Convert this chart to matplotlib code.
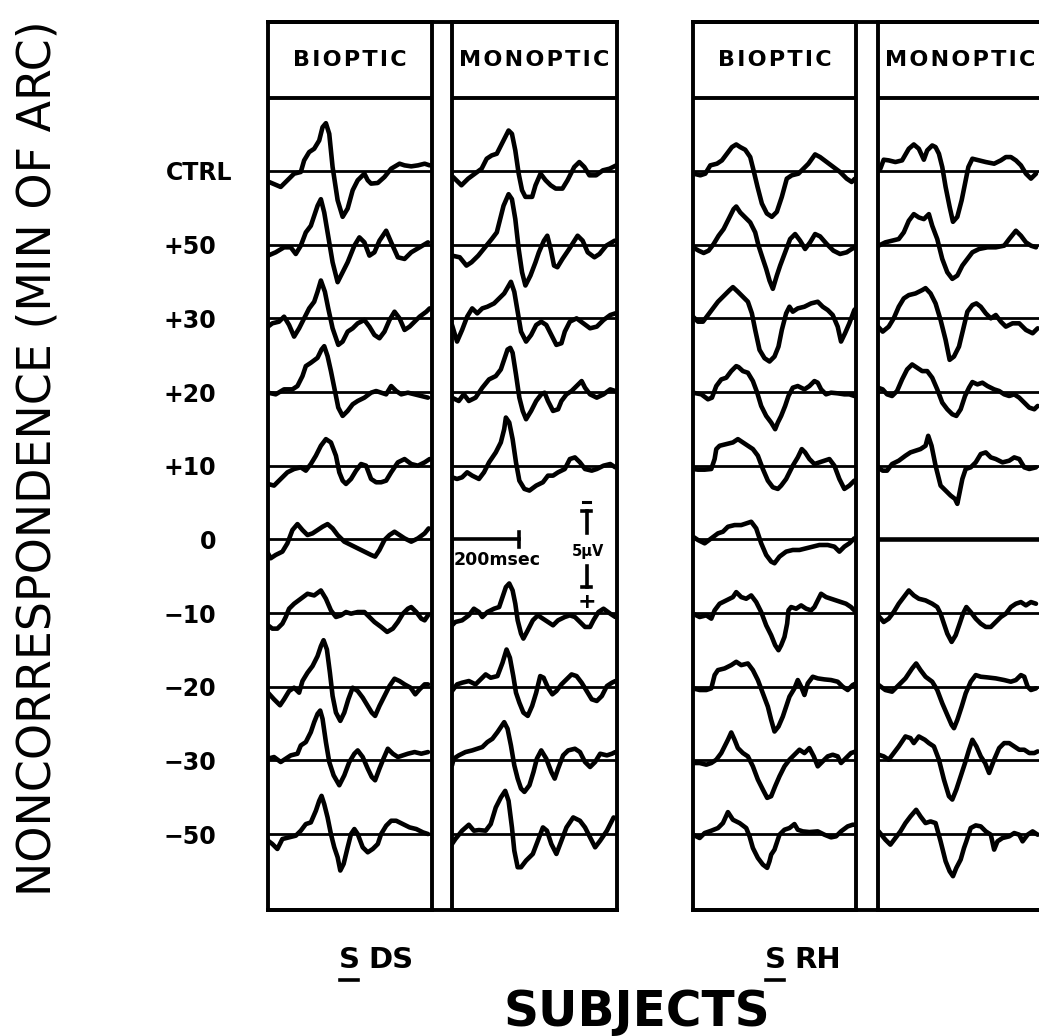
import matplotlib
matplotlib.use("Agg")
import matplotlib.pyplot as plt
import matplotlib.transforms as mtransforms
from matplotlib.lines import Line2D
import numpy as np

plt.rcParams['font.family'] = ['DejaVu Sans']

# ---------------- data (time in ms, amplitude in uV, negative up) ----------------
ROW_LABELS = ["CTRL", "+50", "+30", "+20", "+10", "0", "\u221210", "\u221220", "\u221230", "\u221250"]
PANEL_TITLES = ["BIOPTIC", "MONOPTIC"]
SUBJECT_NAMES = ["DS", "RH"]
TIME_BAR_MS = 200
CAL_UV = 5

# Subject DS, biooptic
DS_BIO_CTRL = [(3,0.66),(38,0.96),(58,0.56),(78,0.16),(98,0.06),(108,-0.64),(123,-1.14),(138,-1.34),(153,-1.84),(163,-2.64),(173,-2.88),(183,-2.24),(193,-0.24),(208,1.76),(223,2.76),(238,2.26),(253,1.16),(268,0.56),(288,0.16),(298,0.56),(308,0.76),(328,0.72),(348,0.36),(368,-0.14),(393,-0.44),(408,-0.34),(428,-0.28),(448,-0.34),(468,-0.44),(483,-0.34)]
DS_BIO_P50 = [(0,0.66),(23,0.46),(48,0.16),(68,0.16),(83,0.56),(98,0.06),(113,-0.74),(128,-1.14),(138,-1.74),(148,-2.34),(158,-2.74),(168,-1.94),(178,-0.74),(193,1.06),(208,2.26),(223,1.66),(238,1.06),(258,0.06),(273,-0.44),(288,-0.14),(303,0.66),(318,0.46),(333,-0.24),(353,-0.84),(368,-0.14),(388,0.76),(408,0.86),(428,0.46),(453,0.16),(478,-0.14)]
DS_BIO_P30 = [(0,0.5),(13,0.3),(33,0.2),(48,-0.1),(63,0.4),(78,1.1),(93,0.6),(108,0),(123,-0.6),(138,-1.0),(148,-1.6),(158,-2.28),(170,-1.6),(180,-0.6),(193,0.6),(210,1.6),(223,1.4),(238,0.8),(253,0.6),(268,0.3),(288,0.1),(303,0.5),(318,1.0),(333,1.2),(348,0.8),(363,0.1),(378,-0.4),(393,0),(408,0.7),(423,0.5),(438,0.2),(453,-0.1),(473,-0.4),(483,-0.6)]
DS_BIO_P20 = [(0,0.04),(23,0.14),(48,-0.16),(73,-0.16),(88,-0.36),(103,-0.96),(113,-1.56),(128,-1.76),(148,-2.06),(160,-2.56),(168,-2.76),(178,-2.16),(188,-1.26),(200,-0.06),(210,0.94),(223,1.44),(238,1.14),(253,0.74),(268,0.54),(288,0.34),(308,0.04),(323,-0.06),(338,0.04),(353,0.14),(368,-0.36),(383,-0.06),(398,0.14),(418,0.04),(438,0.14),(458,0.24),(478,0.34)]
DS_BIO_P10 = [(0,1.1),(18,1.2),(38,0.8),(58,0.4),(78,0.2),(98,0.1),(113,0.3),(128,-0.1),(143,-0.6),(158,-1.2),(173,-1.6),(188,-1.4),(203,-0.6),(213,0.4),(223,0.9),(233,1.1),(248,0.8),(263,0.3),(278,-0.1),(293,0),(308,0.8),(323,1.0),(338,1.0),(353,0.9),(368,0.4),(388,-0.2),(408,-0.4),(428,-0.1),(448,0),(468,-0.2),(483,-0.4)]
DS_BIO_Z = [(0,0.84),(8,1.14),(23,0.94),(43,0.74),(58,0.24),(73,-0.56),(88,-0.92),(103,-0.56),(118,-0.26),(133,-0.36),(148,-0.56),(163,-0.76),(178,-0.92),(193,-0.66),(208,-0.26),(228,0.14),(248,0.34),(268,0.54),(288,0.74),(308,0.94),(320,1.04),(333,0.64),(348,0.04),(363,-0.26),(378,-0.46),(393,-0.26),(408,-0.06),(428,0.14),(448,-0.06),(468,-0.36),(480,-0.66)]
DS_BIO_M10 = [(0,0.74),(13,0.94),(28,0.94),(43,0.64),(53,0.24),(63,-0.26),(78,-0.56),(98,-0.86),(118,-1.16),(138,-1.06),(158,-1.36),(173,-0.86),(188,-0.16),(203,0.24),(218,0.14),(233,-0.06),(248,0.04),(268,-0.06),(288,-0.06),(303,0.24),(318,0.54),(338,0.84),(356,1.14),(373,0.94),(388,0.54),(403,0.04),(418,-0.26),(428,-0.36),(443,-0.06),(458,0.34),(468,0.44),(478,0.14)]
DS_BIO_M20 = [(0,0.36),(18,0.76),(36,1.12),(48,0.76),(63,0.26),(78,0.06),(93,0.36),(103,-0.34),(118,-0.84),(133,-1.24),(148,-1.84),(158,-2.44),(166,-2.8),(176,-2.24),(185,-0.84),(193,0.56),(203,1.56),(216,2.06),(228,1.56),(240,0.76),(253,0.06),(268,0.26),(283,0.66),(298,1.16),(310,1.56),(320,1.76),(333,1.16),(348,0.56),(363,-0.04),(378,-0.48),(393,-0.34),(408,-0.14),(426,0.06),(440,0.46),(453,0.16),(468,-0.14),(478,-0.14)]
DS_BIO_M30 = [(0,-0.1),(18,-0.2),(38,0.1),(53,-0.1),(68,-0.3),(88,-0.4),(98,-0.9),(113,-1.1),(128,-1.7),(138,-2.3),(148,-2.8),(156,-3.0),(163,-2.5),(173,-1.1),(183,0.1),(196,0.9),(213,1.5),(228,0.9),(243,0.1),(258,-0.4),(268,-0.6),(283,-0.2),(298,0.5),(310,1.0),(320,1.2),(333,0.5),(345,-0.1),(358,-0.7),(373,-0.4),(388,-0.2),(403,-0.3),(418,-0.4),(438,-0.5),(458,-0.4),(478,-0.5)]
DS_BIO_M50 = [(0,0.4),(13,0.6),(28,0.9),(43,0.3),(63,0.2),(83,0.1),(98,-0.2),(113,-0.6),(128,-0.7),(143,-1.4),(153,-2.0),(160,-2.3),(168,-1.8),(178,-1.0),(188,0),(198,0.8),(208,1.4),(216,2.2),(226,1.8),(238,0.8),(248,0),(258,-0.3),(268,0),(283,0.8),(298,1.1),(313,0.9),(328,0.6),(338,0),(353,-0.5),(368,-0.8),(383,-0.8),(403,-0.6),(423,-0.4),(443,-0.3),(463,-0.1),(478,0)]

# Subject DS, monoptic (no trace recorded at 0)
DS_MONO_CTRL = [(3,0.36),(28,0.86),(48,0.46),(68,0.16),(88,-0.14),(103,-0.74),(118,-0.94),(133,-1.04),(143,-1.44),(153,-1.84),(168,-2.44),(178,-2.24),(188,-1.24),(198,0.16),(208,1.16),(218,1.56),(238,1.56),(248,0.86),(263,0.16),(278,0.56),(293,0.86),(308,1.06),(328,1.06),(343,0.56),(363,-0.24),(378,-0.54),(393,-0.24),(408,0.26),(428,0.26),(448,-0.04),(468,-0.14),(488,-0.34)]
DS_MONO_P50 = [(0,0.66),(23,0.76),(43,1.26),(58,1.06),(78,0.66),(98,0.16),(118,-0.34),(133,-0.74),(143,-1.54),(153,-2.34),(168,-3.04),(178,-2.74),(188,-1.54),(198,0.26),(208,1.66),(218,2.46),(233,1.86),(248,1.06),(258,0.46),(273,-0.24),(283,-0.54),(293,0.26),(303,1.26),(313,1.36),(328,0.86),(348,0.26),(373,-0.54),(388,-0.24),(403,0.46),(423,0.76),(438,0.56),(458,0.06),(483,-0.24)]
DS_MONO_P30 = [(0,0.4),(15,1.4),(30,0.7),(45,-0.1),(60,-0.6),(75,-0.3),(90,-0.6),(105,-0.7),(125,-0.9),(140,-1.2),(155,-1.5),(175,-2.2),(185,-1.6),(195,-0.4),(205,0.8),(220,1.4),(235,1.0),(250,0.4),(265,0.2),(280,0.4),(295,1.0),(310,1.6),(325,1.5),(335,0.8),(350,0.2),(370,0),(390,0.3),(410,0.6),(430,0.5),(450,0.1),(470,-0.2),(485,-0.3)]
DS_MONO_P20 = [(0,0.34),(20,0.54),(35,0.14),(50,0.54),(70,0.34),(90,-0.26),(110,-0.76),(130,-0.96),(145,-1.36),(155,-1.96),(165,-2.56),(173,-2.66),(180,-2.36),(190,-1.06),(200,0.34),(210,1.14),(220,1.64),(235,1.14),(250,0.54),(265,0.14),(275,0.04),(285,0.54),(300,1.14),(315,1.04),(325,0.54),(340,0.14),(355,-0.06),(370,-0.36),(385,-0.66),(395,-0.26),(410,0.14),(430,0.34),(450,0.14),(470,-0.16),(485,-0.06)]
DS_MONO_P10 = [(0,0.7),(15,0.8),(30,0.7),(45,0.4),(60,0.6),(80,0.8),(95,0.4),(110,-0.2),(130,-0.8),(145,-1.4),(155,-2.2),(160,-2.9),(170,-2.6),(180,-1.6),(190,-0.2),(200,0.9),(215,1.4),(230,1.5),(250,1.2),(270,1.0),(285,0.6),(300,0.6),(315,0.4),(335,0.2),(350,-0.4),(365,-0.5),(380,-0.2),(395,0.2),(415,0.3),(430,0.2),(450,0),(470,-0.1),(485,0.1)]
DS_MONO_M10 = [(0,0.74),(10,0.54),(30,0.44),(50,0.14),(65,-0.26),(80,-0.06),(90,0.24),(105,-0.06),(125,-0.26),(140,-0.36),(150,-0.96),(160,-1.56),(170,-1.78),(180,-1.36),(188,-0.56),(195,0.44),(205,1.24),(212,1.54),(225,1.04),(240,0.44),(255,0.14),(270,0.34),(285,0.54),(300,0.74),(315,0.44),(335,0.24),(350,0.14),(365,0.24),(380,0.54),(395,0.84),(410,0.84),(420,0.44),(435,-0.06),(450,-0.26),(470,0.04),(485,0.24)]
DS_MONO_M20 = [(0,0.26),(15,-0.14),(30,-0.24),(50,-0.34),(70,-0.14),(85,-0.44),(100,-0.74),(115,-0.54),(135,-0.64),(150,-1.44),(162,-2.24),(172,-1.74),(182,-0.64),(190,0.36),(200,0.96),(212,1.56),(225,1.76),(238,1.16),(250,0.36),(262,-0.64),(272,-0.54),(285,0.06),(298,0.46),(310,0.26),(325,-0.14),(340,-0.44),(355,-0.74),(370,-0.64),(385,-0.24),(400,0.26),(415,0.76),(430,0.86),(445,0.56),(460,-0.04),(475,-0.24),(485,-0.34)]
DS_MONO_M30 = [(0,0.3),(5,-0.1),(20,-0.3),(40,-0.5),(60,-0.6),(75,-0.7),(90,-0.8),(105,-1.1),(120,-1.3),(135,-1.7),(145,-2.0),(155,-2.3),(165,-1.9),(175,-0.9),(185,0.3),(195,1.1),(205,1.7),(215,1.9),(230,1.5),(242,0.7),(252,-0.1),(265,-0.6),(280,-0.1),(295,0.7),(305,1.1),(315,0.5),(330,-0.3),(345,-0.6),(365,-0.7),(380,-0.5),(395,0.1),(410,0.4),(425,0.1),(440,-0.4),(460,-0.3),(475,-0.4),(485,-0.5)]
DS_MONO_M50 = [(0,0.6),(10,0.3),(30,-0.2),(50,-0.56),(65,-0.2),(80,-0.24),(100,-0.2),(115,-0.6),(130,-1.6),(145,-2.2),(158,-2.6),(168,-2.0),(178,-0.4),(185,1.0),(195,2.0),(205,2.0),(220,1.6),(240,1.2),(255,0.4),(270,-0.4),(282,-0.2),(295,0.6),(310,1.2),(325,0.4),(340,-0.4),(360,-1.0),(380,-0.8),(395,-0.4),(410,0.2),(425,0.8),(440,0.4),(460,-0.2),(480,-1.0)]

# Subject RH, biooptic
RH_BIO_CTRL = [(2,0.16),(22,0.26),(37,0.16),(52,-0.34),(72,-0.44),(87,-0.64),(102,-1.04),(117,-1.44),(130,-1.6),(142,-1.44),(157,-1.28),(172,-0.84),(182,-0.04),(194,0.96),(207,1.96),(222,2.56),(237,2.76),(252,2.46),(267,1.56),(282,0.46),(297,0.26),(317,0.16),(332,-0.14),(347,-0.44),(367,-1.0),(382,-0.84),(402,-0.54),(422,-0.24),(442,0.06),(462,0.46),(477,0.66),(487,0.46)]
RH_BIO_P50 = [(0,0.16),(17,0.36),(32,0.5),(47,0.36),(62,-0.04),(77,-0.54),(92,-0.94),(107,-1.54),(122,-2.14),(130,-2.3),(142,-1.94),(157,-1.64),(172,-1.34),(187,-0.74),(197,0.06),(210,0.86),(220,1.46),(230,2.16),(240,2.66),(252,1.86),(262,1.26),(277,0.46),(292,-0.34),(307,-0.64),(322,-0.24),(337,0.26),(352,-0.14),(367,-0.64),(382,-0.5),(402,-0.04),(422,0.36),(442,0.56),(462,0.46),(477,0.26),(487,0.16)]
RH_BIO_P30 = [(0,-0.1),(15,0.2),(30,0.2),(45,-0.2),(60,-0.6),(75,-1.0),(95,-1.4),(110,-1.7),(120,-1.88),(135,-1.6),(150,-1.3),(165,-1.0),(177,-0.3),(187,0.7),(200,1.9),(215,2.4),(230,2.6),(245,2.3),(257,1.7),(267,0.7),(280,-0.3),(290,-0.7),(300,-0.4),(315,-0.6),(335,-0.7),(355,-0.9),(375,-1.0),(390,-0.7),(405,-0.5),(420,-0.2),(435,0.5),(445,1.4),(457,0.9),(470,0.3),(485,-0.5),(490,-0.6)]
RH_BIO_P20 = [(0,0.04),(25,0.14),(45,0.44),(57,0.34),(70,-0.36),(85,-0.76),(100,-0.86),(115,-1.26),(130,-1.56),(137,-1.5),(150,-1.26),(165,-1.16),(180,-0.66),(193,0.04),(205,0.84),(220,1.44),(235,1.84),(247,2.24),(255,1.84),(265,1.44),(277,0.84),(287,0.24),(300,-0.26),(315,-0.36),(335,-0.16),(350,-0.36),(365,-0.66),(375,-0.56),(385,-0.16),(400,0.14),(415,0.04),(435,0.08),(455,0.14),(470,0.14),(485,0.24),(490,0.14)]
RH_BIO_P10 = [(0,0.2),(15,0.24),(35,0.24),(55,0.2),(65,-0.4),(70,-1.0),(80,-1.2),(100,-1.3),(120,-1.4),(135,-1.6),(150,-1.4),(165,-1.2),(180,-1.0),(195,-0.6),(210,0.2),(225,0.9),(240,1.3),(255,1.4),(265,1.2),(280,0.8),(290,0.4),(300,0),(315,-0.5),(327,-1.0),(337,-0.8),(350,-0.4),(365,-0.1),(380,-0.2),(395,-0.3),(410,-0.4),(425,0),(440,0.8),(455,1.4),(470,1.2),(485,0.9)]
RH_BIO_Z = [(0,-0.16),(15,0.04),(35,0.24),(55,-0.06),(75,-0.36),(90,-0.46),(105,-0.76),(125,-0.86),(145,-0.86),(160,-0.96),(175,-1.06),(190,-0.66),(205,0.24),(220,0.94),(235,1.34),(245,1.44),(260,1.04),(280,0.74),(300,0.64),(320,0.64),(340,0.54),(360,0.44),(380,0.34),(405,0.34),(425,0.44),(440,0.74),(455,0.44),(470,0.24),(485,-0.06)]
RH_BIO_M10 = [(0,0.04),(20,0.24),(40,0.14),(55,0.34),(65,-0.16),(80,-0.56),(100,-0.76),(120,-0.96),(130,-1.26),(145,-0.96),(160,-0.86),(175,-1.06),(190,-0.66),(205,-0.06),(220,0.74),(235,1.34),(247,1.94),(257,2.24),(265,1.94),(275,1.44),(283,0.64),(287,-0.16),(295,-0.36),(310,-0.26),(325,-0.46),(340,-0.26),(355,-0.16),(365,-0.36),(375,-0.76),(385,-1.16),(400,-0.96),(415,-0.86),(430,-0.76),(445,-0.66),(460,-0.56),(475,-0.36),(490,-0.06)]
RH_BIO_M20 = [(0,0.1),(20,0.2),(40,0.2),(55,0.1),(65,-0.7),(75,-1.0),(95,-1.1),(115,-1.3),(130,-1.5),(145,-1.3),(165,-1.4),(180,-1.0),(195,-0.4),(210,0.4),(225,1.2),(235,2.0),(245,2.7),(257,2.4),(270,1.8),(280,1.2),(290,0.6),(305,0.1),(315,-0.4),(325,0),(335,0.5),(345,-0.2),(360,-0.6),(375,-0.5),(395,-0.44),(415,-0.4),(435,-0.3),(450,0),(465,0.2),(480,-0.1),(490,-0.2)]
RH_BIO_M30 = [(0,0.16),(20,0.16),(40,0.26),(55,0.16),(70,-0.04),(85,-0.44),(95,-0.84),(105,-1.24),(115,-1.68),(125,-1.24),(135,-0.74),(150,-0.44),(165,-0.24),(180,0.36),(195,1.16),(210,1.76),(223,2.26),(235,2.16),(247,1.56),(260,0.96),(275,0.36),(290,-0.04),(305,-0.34),(320,-0.64),(335,-0.44),(350,-0.74),(363,-0.24),(375,0.36),(390,0.06),(405,-0.24),(420,-0.34),(435,-0.24),(445,0.16),(460,-0.14),(475,-0.44),(490,-0.54)]
RH_BIO_M50 = [(0,0.04),(20,0.24),(35,-0.06),(55,-0.2),(75,-0.36),(90,-0.66),(105,-1.32),(120,-0.86),(140,-0.66),(160,-0.36),(170,0.14),(180,0.84),(195,1.44),(210,1.84),(223,2.04),(230,1.64),(235,1.24),(245,0.94),(260,0.04),(275,-0.26),(290,-0.36),(305,-0.6),(315,-0.26),(330,-0.16),(350,-0.12),(375,-0.16),(395,0.04),(415,0.2),(430,0.14),(445,-0.16),(465,-0.46),(480,-0.56),(490,-0.56)]

# Subject RH, monoptic (flat trace at 0)
RH_MONO_CTRL = [(7,-0.14),(17,-0.68),(32,-0.64),(52,-0.54),(72,-0.64),(92,-1.34),(107,-1.6),(122,-1.34),(137,-0.68),(147,-1.24),(162,-1.54),(172,-1.44),(182,-1.04),(192,-0.24),(202,0.96),(214,2.16),(224,3.06),(237,2.76),(250,1.76),(260,0.76),(270,-0.24),(282,-0.74),(302,-0.64),(322,-0.54),(347,-0.44),(367,-0.64),(382,-0.84),(397,-0.84),(412,-0.64),(427,-0.34),(442,0.16),(457,0.46),(472,0.16)]
RH_MONO_P50 = [(2,0.06),(22,-0.14),(42,-0.24),(62,-0.34),(77,-0.74),(92,-1.44),(107,-1.84),(122,-1.64),(137,-1.54),(152,-1.84),(162,-1.14),(177,-0.34),(192,0.86),(207,1.66),(222,2.06),(237,1.86),(252,1.26),(267,0.86),(282,0.46),(302,0.26),(327,0.16),(352,0.16),(377,0.06),(392,-0.34),(412,-0.84),(427,-0.54),(442,-0.14),(457,0.06),(472,0.16)]
RH_MONO_P30 = [(0,0.5),(14,0.8),(32,0.5),(47,0),(62,-0.7),(77,-1.2),(92,-1.4),(112,-1.5),(132,-1.7),(142,-1.82),(157,-1.5),(172,-0.9),(187,0.1),(202,1.3),(214,2.5),(227,2.3),(242,1.7),(254,0.7),(267,-0.4),(282,-0.8),(294,-0.9),(307,-0.7),(322,-0.3),(337,0),(352,-0.2),(367,0.2),(382,0.5),(402,0.3),(422,0.3),(442,0.7),(462,0.9),(477,0.6)]
RH_MONO_P20 = [(0,-0.26),(14,-0.16),(27,0.14),(42,0.24),(57,-0.06),(72,-0.76),(87,-1.36),(102,-1.66),(117,-1.46),(132,-1.26),(147,-1.26),(162,-0.86),(177,-0.16),(192,0.64),(207,1.04),(222,1.34),(234,1.44),(247,1.04),(260,0.24),(272,-0.26),(282,-0.6),(297,-0.46),(312,-0.56),(327,-0.36),(347,-0.16),(362,-0.06),(377,0.14),(392,0.24),(407,0.14),(422,0.34),(437,0.64),(452,0.94),(467,1.04),(477,0.84)]
RH_MONO_P10 = [(0,0.1),(14,0.3),(27,0.3),(42,-0.1),(62,-0.3),(82,-0.6),(97,-0.8),(112,-0.9),(127,-1.0),(142,-1.2),(150,-1.8),(160,-1.2),(172,0),(187,1.2),(202,1.5),(217,1.8),(230,2.0),(237,2.3),(244,1.6),(252,0.8),(262,0.2),(277,0.1),(292,-0.2),(307,-0.7),(322,-0.8),(337,-0.5),(352,-0.4),(372,-0.2),(392,-0.3),(407,-0.5),(422,-0.4),(437,0.1),(452,0.2),(472,0.1)]
RH_MONO_Z = [(0,0.0),(490,0.0)]
RH_MONO_M10 = [(0,0.14),(17,0.54),(32,0.34),(47,-0.06),(62,-0.56),(77,-0.96),(92,-1.36),(107,-1.06),(122,-0.86),(142,-0.76),(162,-0.56),(177,-0.36),(187,0.04),(197,0.64),(207,1.24),(220,1.74),(232,1.34),(244,0.64),(254,0.04),(264,-0.36),(277,-0.06),(292,0.34),(307,0.64),(322,0.84),(337,0.84),(352,0.54),(367,0.24),(382,0.04),(397,-0.36),(412,-0.56),(427,-0.66),(442,-0.46),(457,-0.66),(472,-0.56)]
RH_MONO_M20 = [(2,-0.1),(22,0.2),(42,0.3),(62,-0.1),(82,-0.5),(102,-1.1),(114,-1.4),(127,-1.0),(142,-0.6),(162,-0.3),(177,0.2),(192,1.0),(207,1.7),(220,2.3),(227,2.5),(237,2.0),(250,1.2),(262,0.4),(277,-0.3),(292,-0.7),(307,-0.6),(327,-0.56),(352,-0.5),(377,-0.4),(397,-0.3),(412,-0.4),(427,-0.7),(437,-0.6),(447,0),(457,0.2),(472,0.1)]
RH_MONO_M30 = [(2,-0.34),(17,-0.24),(32,-0.04),(47,-0.44),(62,-0.84),(82,-1.44),(97,-1.34),(107,-1.04),(122,-1.44),(140,-1.24),(152,-1.04),(167,-0.84),(182,-0.04),(197,1.16),(212,2.16),(222,2.36),(234,1.76),(247,0.96),(260,0.16),(272,-0.64),(282,-1.24),(294,-0.84),(307,-0.24),(320,0.16),(332,0.76),(347,-0.04),(362,-0.74),(377,-1.04),(392,-1.04),(407,-0.84),(422,-0.64),(437,-0.64),(452,-0.44),(467,-0.44),(477,-0.54)]
RH_MONO_M50 = [(2,-0.16),(22,0.34),(37,0.64),(52,0.24),(67,-0.16),(82,-0.66),(97,-1.06),(114,-1.46),(127,-1.06),(142,-0.66),(157,-0.76),(172,-0.66),(187,0.44),(202,1.64),(214,2.24),(224,2.54),(234,2.04),(247,1.54),(257,0.84),(264,0.44),(277,-0.36),(292,-0.52),(307,-0.46),(322,-0.16),(337,0.04),(347,0.94),(357,0.44),(372,0.24),(392,0.14),(407,-0.06),(422,0.04),(432,0.44),(447,0.04),(462,-0.16),(477,0.04)]

DS_BIO = [DS_BIO_CTRL, DS_BIO_P50, DS_BIO_P30, DS_BIO_P20, DS_BIO_P10, DS_BIO_Z,
          DS_BIO_M10, DS_BIO_M20, DS_BIO_M30, DS_BIO_M50]
DS_MONO = [DS_MONO_CTRL, DS_MONO_P50, DS_MONO_P30, DS_MONO_P20, DS_MONO_P10, None,
           DS_MONO_M10, DS_MONO_M20, DS_MONO_M30, DS_MONO_M50]
RH_BIO = [RH_BIO_CTRL, RH_BIO_P50, RH_BIO_P30, RH_BIO_P20, RH_BIO_P10, RH_BIO_Z,
          RH_BIO_M10, RH_BIO_M20, RH_BIO_M30, RH_BIO_M50]
RH_MONO = [RH_MONO_CTRL, RH_MONO_P50, RH_MONO_P30, RH_MONO_P20, RH_MONO_P10, RH_MONO_Z,
           RH_MONO_M10, RH_MONO_M20, RH_MONO_M30, RH_MONO_M50]

# ---------------- layout ----------------
W, H = 1039, 1036
PX_PER_UV = 16.6
TOP_PX, BOT_PX, HEADER_PX, CTRL_PX = 22, 910, 98, 171
ROW_GAP_PX = 73.67
ROW_GAP = ROW_GAP_PX / PX_PER_UV
T_MAX = 490
PANELS_PX = {"DS": [(268, 432), (452, 617)], "RH": [(693, 856), (878, 1042)]}
BLOCK_DATA = {"DS": [DS_BIO, DS_MONO], "RH": [RH_BIO, RH_MONO]}

def uv(px):
    return (px - CTRL_PX) / PX_PER_UV

fig = plt.figure(figsize=(W / 100, H / 100), dpi=100)
fig.patch.set_facecolor('white')

def add_px_axes(left, right):
    return fig.add_axes([left / W, 1 - BOT_PX / H, (right - left) / W, (BOT_PX - TOP_PX) / H])

LW_FRAME = 2.8
LW_BASE = 2.0
LW_WAVE = 3.3

offsets = np.arange(len(ROW_LABELS)) * ROW_GAP

panel_axes = {}
for subj in SUBJECT_NAMES:
    (l0, r0), (l1, r1) = PANELS_PX[subj]
    bg = add_px_axes(l0, r1)
    bg.set_xticks([]); bg.set_yticks([])
    bg.patch.set_alpha(0)
    for s in ("left", "right"):
        bg.spines[s].set_visible(False)
    for s in ("top", "bottom"):
        bg.spines[s].set_linewidth(LW_FRAME)
    for pi, (l, r) in enumerate(PANELS_PX[subj]):
        ax = add_px_axes(l, r)
        ax.patch.set_alpha(0)
        ax.set_xlim(0, T_MAX)
        ax.set_ylim(uv(BOT_PX), uv(TOP_PX))  # negative up
        ax.set_xticks([]); ax.set_yticks([])
        for s in ax.spines.values():
            s.set_linewidth(LW_FRAME)
        ax.axhline(uv(HEADER_PX), color='black', lw=LW_FRAME)
        ax.text(T_MAX / 2, uv(60), "\u200a".join(PANEL_TITLES[pi]), ha='center', va='center',
                fontsize=16, fontweight='bold')
        waves = BLOCK_DATA[subj][pi]
        for k, wave in enumerate(waves):
            if wave is None:
                continue
            ax.axhline(offsets[k], color='black', lw=LW_BASE, zorder=2)
            t = np.array([p[0] for p in wave], dtype=float)
            v = np.array([p[1] for p in wave], dtype=float)
            ax.plot(t, v + offsets[k], color='black', lw=LW_WAVE,
                    solid_joinstyle='round', solid_capstyle='round', zorder=3)
        panel_axes[(subj, pi)] = ax

# row labels
ax0 = panel_axes[("DS", 0)]
trans = mtransforms.blended_transform_factory(fig.transFigure, ax0.transData)
for k, lab in enumerate(ROW_LABELS):
    xr = 232 if lab == "CTRL" else 216
    ax0.text(xr / W, offsets[k] + 0.15, lab, transform=trans, ha='right', va='center',
             fontsize=17, fontweight='bold', clip_on=False)

# time and voltage calibration in DS monoptic panel, row "0"
axm = panel_axes[("DS", 1)]
y0 = offsets[5]
axm.plot([0, TIME_BAR_MS], [y0, y0], color='black', lw=2.6, zorder=3)
for tt in (0, TIME_BAR_MS):
    axm.plot([tt, tt], [y0 - 0.45, y0 + 0.45], color='black', lw=2.6)
axm.text(6, y0 + 1.25, "%dmsec" % TIME_BAR_MS, ha='left', va='center', fontsize=12.5, fontweight='bold')
cx, hw = 400, 14
ytop = y0 - 1.7
ybot = ytop + CAL_UV - 0.4
axm.plot([cx - hw * 0.7, cx + hw * 0.7], [ytop - 0.55, ytop - 0.55], color='black', lw=2.2)
axm.plot([cx - hw, cx + hw], [ytop, ytop], color='black', lw=2.6)
axm.plot([cx, cx], [ytop, ytop + 1.3], color='black', lw=2.6)
axm.text(cx + 5, ytop + 2.45, "5\u00b5V", ha='center', va='center', fontsize=10.5, fontweight='bold')
axm.plot([cx, cx], [ybot - 1.3, ybot], color='black', lw=2.6)
axm.plot([cx - hw, cx + hw], [ybot, ybot], color='black', lw=2.6)
axm.text(cx, ybot + 0.85, "+", ha='center', va='center', fontsize=16, fontweight='bold')

# subject labels (underlined S) and axis titles
for subj, s_left in (("DS", 339), ("RH", 765)):
    fig.text(s_left / W, 1 - 960 / H, "S", ha='left', va='center', fontsize=21, fontweight='bold')
    fig.text((s_left + 29) / W, 1 - 960 / H, subj, ha='left', va='center', fontsize=21, fontweight='bold')
    fig.add_artist(Line2D([(s_left + 1) / W, (s_left + 19) / W], [1 - 980 / H, 1 - 980 / H],
                          transform=fig.transFigure, color='black', lw=2.6))
fig.text(637 / W, 1 - 1012 / H, "SUBJECTS", ha='center', va='center', fontsize=35, fontweight='bold')
fig.text(38 / W, 1 - 458 / H, "NONCORRESPONDENCE (MIN OF ARC)", ha='center', va='center',
         rotation=90, fontsize=33)

fig.savefig("out.png", dpi=100, facecolor='white')
